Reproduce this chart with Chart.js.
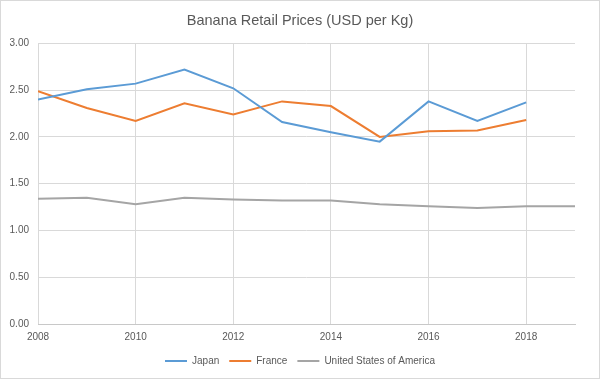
<!DOCTYPE html>
<html>
<head>
<meta charset="utf-8">
<script src="https://cdn.jsdelivr.net/npm/chart.js@4/dist/chart.umd.min.js"></script>
<style>
html,body{margin:0;padding:0;background:#fff;}
#wrap{width:598px;height:377px;border:1px solid #d9d9d9;position:relative;}
canvas{display:block;}
</style>
</head>
<body>
<div id="wrap"><canvas id="c" width="598" height="377"></canvas></div>
<script>
const years = [2008,2009,2010,2011,2012,2013,2014,2015,2016,2017,2018,2019];
const xTickLabels = [2008,2010,2012,2014,2016,2018];
const japan  = [2.40,2.51,2.57,2.72,2.52,2.16,2.05,1.95,2.38,2.17,2.37];
const france = [2.49,2.31,2.17,2.36,2.24,2.38,2.33,2.00,2.06,2.07,2.18];
const usa    = [1.34,1.35,1.28,1.35,1.33,1.32,1.32,1.28,1.26,1.24,1.26,1.26];
const seriesNames = ['Japan','France','United States of America'];
const colors = ['#5B9BD5','#ED7D31','#A5A5A5'];

const toPts = arr => arr.map((v,i)=>({x:years[i],y:v}));
const FONT = "'Liberation Sans', 'DejaVu Sans', sans-serif";

new Chart(document.getElementById('c'), {
  type:'line',
  data:{
    datasets:[japan,france,usa].map((arr,i)=>({
      label:seriesNames[i],
      data:toPts(arr),
      borderColor:colors[i],
      backgroundColor:colors[i],
      borderWidth:2,
      pointRadius:0,
      tension:0,
      fill:false
    }))
  },
  options:{
    responsive:false,
    animation:false,
    layout:{padding:{left:0,right:0,top:0,bottom:2}},
    plugins:{
      title:{display:true,text:'Banana Retail Prices (USD per Kg)',color:'#595959',
        font:{family:FONT,size:14.5,weight:'normal'},padding:{top:11,bottom:14}},
      legend:{position:'bottom',
        labels:{color:'#595959',font:{family:FONT,size:10},boxWidth:22,boxHeight:2,padding:10,
          generateLabels(chart){
            return chart.data.datasets.map((d,i)=>({text:d.label,fillStyle:d.borderColor,strokeStyle:d.borderColor,lineWidth:0,fontColor:'#595959',datasetIndex:i}));
          }}},
      tooltip:{enabled:false}
    },
    scales:{
      x:{type:'linear',min:2008,max:2019,
        afterBuildTicks(scale){scale.ticks = xTickLabels.map(v=>({value:v}));},
        afterFit(scale){scale.height = 22;},
        grid:{color:'#d9d9d9',drawTicks:false},
        border:{color:'#c8c8c8'},
        ticks:{color:'#595959',font:{family:FONT,size:10},padding:7,maxRotation:0,
          callback:v=>String(v)}
      },
      y:{min:0,max:3,
        afterFit(scale){scale.width = 37;},
        grid:{color:'#d9d9d9',drawTicks:false},
        border:{display:false},
        ticks:{stepSize:0.5,color:'#595959',font:{family:FONT,size:10},padding:9,
          callback:v=>Number(v).toFixed(2)}
      },
      yRight:{position:'right',min:0,max:3,
        afterFit(scale){scale.width = 24;},
        grid:{display:false,drawTicks:false},
        border:{display:false},
        ticks:{display:false}
      }
    }
  }
});
</script>
</body>
</html>
